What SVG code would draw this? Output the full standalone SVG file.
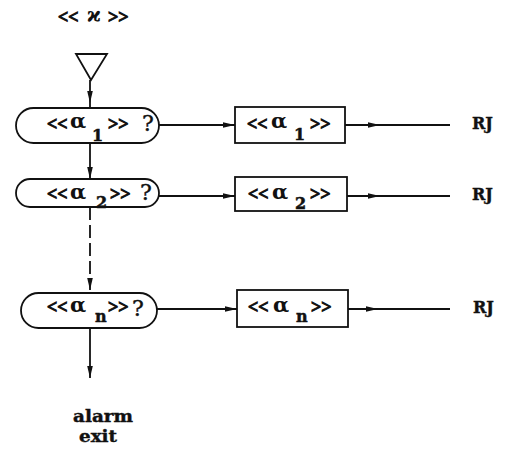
<svg xmlns="http://www.w3.org/2000/svg" width="528" height="460" viewBox="0 0 528 460">
<style>
.s{fill:none;stroke:#111;stroke-width:1.8}
.c{font-family:"Liberation Serif","DejaVu Serif",serif;font-weight:bold;fill:#111;stroke:#111;stroke-width:1;font-size:18px}
.a{font-family:"DejaVu Serif","Liberation Serif",serif;font-weight:bold;fill:#111;font-size:21px}
.b{font-family:"DejaVu Serif","Liberation Serif",serif;font-weight:bold;fill:#111;stroke:#111;stroke-width:0.5;font-size:16px}
.q{font-family:"DejaVu Serif","Liberation Serif",serif;fill:#111;stroke:#111;stroke-width:0.4;font-size:22px}
.r{font-family:"DejaVu Serif","Liberation Serif",serif;font-weight:bold;fill:#111;stroke:#111;stroke-width:0.4;font-size:16px}
</style>
<defs>
<marker id="a" markerUnits="userSpaceOnUse" markerWidth="14" markerHeight="8" refX="12" refY="4" orient="auto">
<path d="M0,1.2 L12,4 L0,6.8 Z" fill="#111"/>
</marker>
</defs>
<rect width="528" height="460" fill="#fff"/>
<g id="connectors" class="s">
<path d="M90,80 L90,103 L90,108" marker-mid="url(#a)"/>
<path d="M90,143 L90,179" marker-end="url(#a)"/>
<path d="M90,207 L90,290" stroke-dasharray="13 5" marker-end="url(#a)"/>
<path d="M90,328 L90,378" marker-end="url(#a)"/>
<path d="M159,125 L235,125" marker-end="url(#a)"/>
<path d="M159,196 L235,196" marker-end="url(#a)"/>
<path d="M157,309 L237,309" marker-end="url(#a)"/>
<path d="M345,125 L380,125 L450,125" marker-mid="url(#a)"/>
<path d="M347,196 L380,196 L450,196" marker-mid="url(#a)"/>
<path d="M348,309 L378,309 L450,309" marker-mid="url(#a)"/>
</g>
<g id="start">
<text class="c" x="58" y="23" font-size="20">&lt;&lt;</text>
<text class="a" x="87" y="21" font-size="18">ϰ</text>
<text class="c" x="108" y="23" font-size="20">&gt;&gt;</text>
<polygon class="s" points="76,54 107,54 91,80"/>
</g>
<g id="test1">
<rect class="s" x="16" y="108" width="143" height="35" rx="17.5"/>
<text class="c" x="47" y="130">&lt;&lt;</text>
<text class="a" x="70" y="128">α</text>
<text class="b" x="92" y="141">1</text>
<text class="c" x="108" y="130">&gt;&gt;</text>
<text class="q" x="142" y="131">?</text>
</g>
<g id="test2">
<rect class="s" x="16" y="179" width="143" height="28" rx="14"/>
<text class="c" x="47" y="200">&lt;&lt;</text>
<text class="a" x="70" y="199">α</text>
<text class="b" x="96" y="208">2</text>
<text class="c" x="110" y="200">&gt;&gt;</text>
<text class="q" x="140" y="200" font-size="21">?</text>
</g>
<g id="testn">
<rect class="s" x="21" y="293" width="136" height="35" rx="17.5"/>
<text class="c" x="47" y="313">&lt;&lt;</text>
<text class="a" x="70" y="312">α</text>
<text class="b" x="95" y="322">n</text>
<text class="c" x="108" y="313">&gt;&gt;</text>
<text class="q" x="132" y="316" font-size="24">?</text>
</g>
<g id="box1">
<rect class="s" x="235" y="107" width="110" height="36"/>
<text class="c" x="247" y="130">&lt;&lt;</text>
<text class="a" x="271" y="128">α</text>
<text class="b" x="294" y="140" font-size="15">1</text>
<text class="c" x="310" y="130">&gt;&gt;</text>
</g>
<g id="box2">
<rect class="s" x="235" y="177" width="112" height="34"/>
<text class="c" x="248" y="200">&lt;&lt;</text>
<text class="a" x="272" y="199">α</text>
<text class="b" x="295" y="209">2</text>
<text class="c" x="310" y="200">&gt;&gt;</text>
</g>
<g id="boxn">
<rect class="s" x="237" y="290" width="111" height="37"/>
<text class="c" x="248" y="313">&lt;&lt;</text>
<text class="a" x="273" y="312">α</text>
<text class="b" x="296" y="322">n</text>
<text class="c" x="311" y="313">&gt;&gt;</text>
</g>
<g id="rj1"><text class="r" x="472" y="129">RJ</text></g>
<g id="rj2"><text class="r" x="472" y="200">RJ</text></g>
<g id="rjn"><text class="r" x="473" y="313">RJ</text></g>
<g id="alarm">
<text class="r" x="73" y="422" font-size="17" textLength="60" lengthAdjust="spacingAndGlyphs">alarm</text>
<text class="r" x="79" y="442" font-size="17" textLength="38" lengthAdjust="spacingAndGlyphs">exit</text>
</g>
</svg>
